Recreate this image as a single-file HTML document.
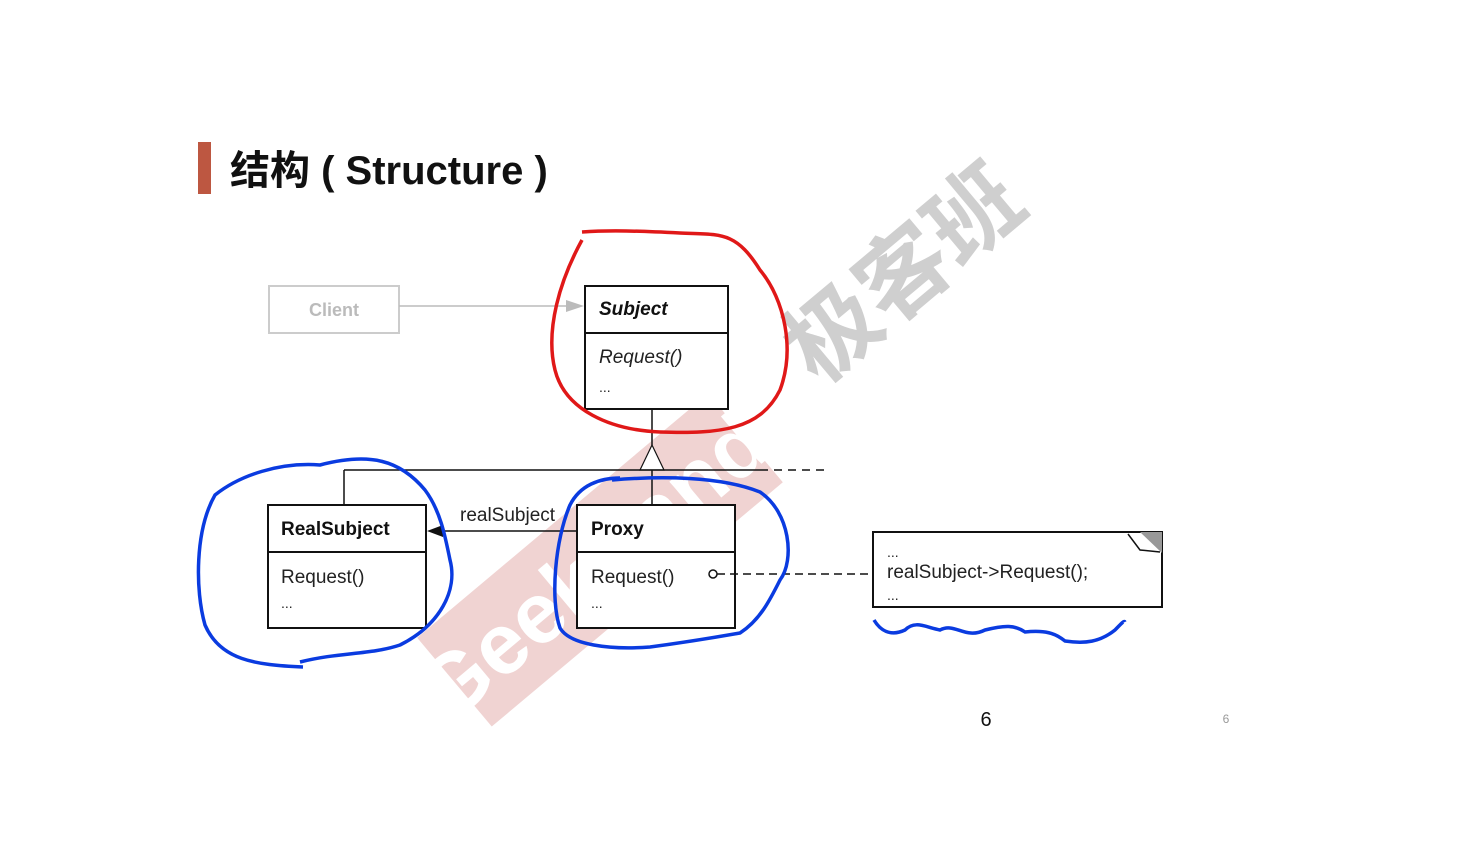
<!DOCTYPE html>
<html><head><meta charset="utf-8"><style>
html,body{margin:0;padding:0;background:#fff;}
body{width:1470px;height:853px;overflow:hidden;position:relative;font-family:"Liberation Sans",sans-serif;}
</style></head><body>
<svg width="1470" height="853" viewBox="0 0 1470 853" xmlns="http://www.w3.org/2000/svg" style="position:absolute;left:0;top:0">
<!-- watermark band -->
<g transform="translate(600,560) rotate(-40)">
<rect x="-190" y="-58" width="380" height="116" fill="#f0d3d2"/>
<text x="-10" y="30" font-family="Liberation Sans" font-weight="bold" font-size="86" fill="#fff" text-anchor="middle">GeekBand</text>
</g>
<g transform="translate(905,275) rotate(-40)">
<text x="0" y="30" font-family="Noto Sans CJK SC,sans-serif" font-weight="bold" font-size="92" fill="#cfcfcf" text-anchor="middle">极客班</text>
</g>
<!-- title -->
<rect x="198" y="142" width="13" height="52" fill="#bd5741"/>
<text x="230" y="184" font-family="Liberation Sans,Noto Sans CJK SC,sans-serif" font-weight="bold" font-size="40" fill="#111">结构 ( Structure )</text>
<!-- client -->
<rect x="269" y="286" width="130" height="47" fill="none" stroke="#ccc" stroke-width="2"/>
<text x="334" y="316" font-size="18" fill="#bbb" text-anchor="middle" font-weight="bold">Client</text>
<line x1="399" y1="306" x2="572" y2="306" stroke="#bbb" stroke-width="1.5"/>
<polygon points="566,300 584,306 566,312" fill="#bbb"/>
<!-- subject -->
<rect x="585" y="286" width="143" height="123" fill="#fff" stroke="#111" stroke-width="2"/>
<line x1="585" y1="333" x2="728" y2="333" stroke="#111" stroke-width="2"/>
<text x="599" y="315" font-size="19" font-weight="bold" font-style="italic" fill="#111">Subject</text>
<text x="599" y="363" font-size="19" font-style="italic" fill="#222">Request()</text>
<text x="599" y="392" font-size="14" fill="#222">...</text>
<!-- inheritance -->
<line x1="652" y1="409" x2="652" y2="445" stroke="#111" stroke-width="1.5"/>
<polygon points="652,445 640,470 664,470" fill="#fff" stroke="#111" stroke-width="1.2"/>
<line x1="344" y1="470" x2="760" y2="470" stroke="#111" stroke-width="1.5"/>
<line x1="760" y1="470" x2="828" y2="470" stroke="#111" stroke-width="1.5" stroke-dasharray="8,6"/>
<line x1="344" y1="470" x2="344" y2="505" stroke="#111" stroke-width="1.5"/>
<line x1="652" y1="470" x2="652" y2="505" stroke="#111" stroke-width="1.5"/>
<!-- realsubject -->
<rect x="268" y="505" width="158" height="123" fill="#fff" stroke="#111" stroke-width="2"/>
<line x1="268" y1="552" x2="426" y2="552" stroke="#111" stroke-width="2"/>
<text x="281" y="535" font-size="19" font-weight="bold" fill="#111">RealSubject</text>
<text x="281" y="583" font-size="19" fill="#222">Request()</text>
<text x="281" y="608" font-size="14" fill="#222">...</text>
<!-- association -->
<line x1="436" y1="531" x2="577" y2="531" stroke="#111" stroke-width="1.5"/>
<polygon points="427,531 443,525 443,537" fill="#111"/>
<text x="460" y="521" font-size="19" fill="#222">realSubject</text>
<!-- proxy -->
<rect x="577" y="505" width="158" height="123" fill="#fff" stroke="#111" stroke-width="2"/>
<line x1="577" y1="552" x2="735" y2="552" stroke="#111" stroke-width="2"/>
<text x="591" y="535" font-size="19" font-weight="bold" fill="#111">Proxy</text>
<text x="591" y="583" font-size="19" fill="#222">Request()</text>
<text x="591" y="608" font-size="14" fill="#222">...</text>
<circle cx="713" cy="574" r="4" fill="#fff" stroke="#111" stroke-width="1.5"/>
<line x1="717" y1="574" x2="868" y2="574" stroke="#111" stroke-width="1.5" stroke-dasharray="8,5"/>
<!-- note -->
<rect x="873" y="532" width="289" height="75" fill="#fff" stroke="#111" stroke-width="2"/>
<polygon points="1140,532 1162,532 1162,553" fill="#999"/>
<polyline points="1128,534 1140,550 1160,552" fill="none" stroke="#111" stroke-width="1.5"/>
<text x="887" y="557" font-size="14" fill="#222">...</text>
<text x="887" y="578" font-size="19" fill="#222">realSubject-&gt;Request();</text>
<text x="887" y="600" font-size="14" fill="#222">...</text>
<!-- red circle -->
<path d="M582,240 C560,280 545,330 555,370 C565,410 610,430 660,432 C720,434 760,430 780,390 C795,350 785,300 760,270 C735,230 720,235 680,233 C640,231 610,230 582,232" fill="none" stroke="#e01818" stroke-width="3.5"/>
<!-- blue circles -->
<path d="M300,662 C340,652 370,655 400,645 C440,625 458,590 450,560 C445,535 440,510 425,490 C400,460 370,452 320,465 C280,462 240,475 215,495 C195,530 195,590 205,625 C220,660 255,665 303,667" fill="none" stroke="#0a3be0" stroke-width="3.5"/>
<path d="M612,480 C660,476 720,476 760,492 C790,512 795,560 780,580 C770,600 760,620 740,633 C700,640 680,643 650,647 C610,650 570,645 560,628 C550,600 555,540 570,505 C580,485 600,478 620,478" fill="none" stroke="#0a3be0" stroke-width="3.5"/>
<path d="M874,620 C880,630 890,637 905,630 C915,620 925,627 940,630 C955,622 965,640 985,630 C1005,625 1015,625 1025,632 C1045,630 1055,633 1065,641 C1085,644 1100,642 1115,630 C1120,625 1124,620 1125,622" fill="none" stroke="#0a3be0" stroke-width="3.5"/>
<!-- page numbers -->
<text x="986" y="726" font-size="20" fill="#111" text-anchor="middle">6</text>
<text x="1226" y="723" font-size="12" fill="#999" text-anchor="middle">6</text>
</svg>
</body></html>
